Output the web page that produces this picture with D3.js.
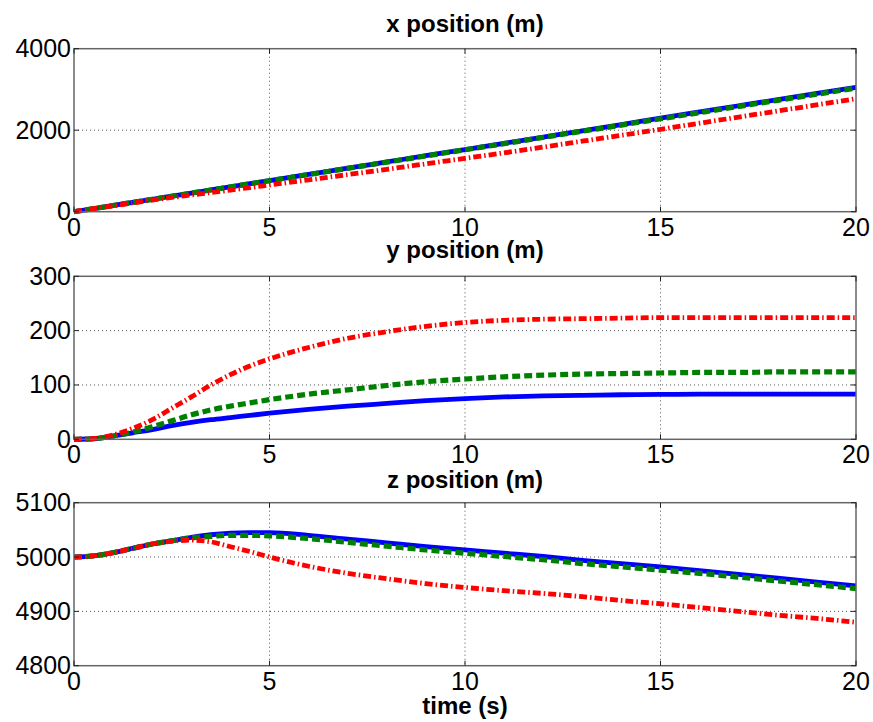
<!DOCTYPE html>
<html>
<head>
<meta charset="utf-8">
<title>position vs time</title>
<script src="https://d3js.org/d3.v7.min.js"></script>
<style>
  body { margin: 0; background: #fff; }
  text { font-family: 'Liberation Sans', Arial, sans-serif; fill: #000; }
  .title { font-weight: bold; font-size: 24px; }
  .tick-label { font-size: 25px; }
</style>
</head>
<body>
<div id="chart"></div>
<script>
// ---- data ----
const time = [0, 0.5, 1, 1.5, 2, 2.5, 3, 3.5, 4, 4.5, 5, 6, 7, 8, 9, 10,
              11, 12, 13, 14, 15, 16, 17, 18, 19, 20];

const xBlue  = [0, 76, 153, 229, 305, 382, 458, 534, 611, 687, 763, 916, 1068, 1221, 1374, 1526,
                1679, 1832, 1984, 2137, 2295, 2447, 2600, 2752, 2903, 3053];
const xGreen = [0, 76, 152, 228, 304, 380, 456, 532, 608, 684, 760, 912, 1064, 1216, 1368, 1519,
                1670, 1822, 1974, 2125, 2280, 2431, 2582, 2733, 2884, 3035];
const xRed   = [0, 73, 145, 215, 285, 350, 410, 470, 530, 592, 655, 780, 910, 1040, 1175, 1310,
                1445, 1585, 1730, 1875, 2022, 2172, 2322, 2472, 2622, 2773];

const yBlue  = [0, 1, 6, 12, 18, 25, 31, 36, 40, 44, 48, 55, 61, 66, 71, 75,
                78, 80, 81, 82, 82.5, 83, 83, 83, 83, 83];
const yGreen = [0, 1, 6, 13, 23, 34, 45, 54, 61, 67, 73, 83, 91, 99, 106, 111,
                115, 118, 120, 121, 122, 123, 123, 124, 124, 124];
const yRed   = [0, 1.5, 8, 20, 36, 57, 78, 100, 119, 135, 148, 169, 186, 198, 208, 215,
                219, 221, 222, 223, 224, 224, 224, 224, 224, 224];

const zBlue  = [5000, 5002, 5008, 5016, 5024, 5030, 5036, 5041, 5044, 5045, 5045, 5040, 5033, 5026, 5019, 5013,
                5007, 5001, 4994, 4988, 4982, 4975, 4968, 4961, 4954, 4947];
const zGreen = [5000, 5002, 5008, 5016, 5024, 5030, 5035, 5038, 5040, 5040, 5039, 5034, 5027, 5020, 5013, 5007,
                5001, 4995, 4988, 4982, 4976, 4970, 4963, 4956, 4949, 4942];
const zRed   = [5000, 5002, 5008, 5016, 5024, 5029, 5031, 5028, 5019, 5010, 5000, 4983, 4970, 4960, 4951, 4944,
                4938, 4933, 4927, 4920, 4914, 4907, 4900, 4893, 4887, 4880];

const xTicks = [0, 5, 10, 15, 20];
const titles = ["x position (m)", "y position (m)", "z position (m)"];
const yDomains = [[0, 4000], [0, 300], [4800, 5100]];
const yTicks = [[0, 2000, 4000], [0, 100, 200, 300], [4800, 4900, 5000, 5100]];
const seriesByPanel = [[xBlue, xGreen, xRed], [yBlue, yGreen, yRed], [zBlue, zGreen, zRed]];
const xLabel = "time (s)";

// ---- layout / style ----
const width = 873, height = 722;
const left = 74, right = 856;
const panelTops = [48.7, 276.3, 502.7];
const panelH = 163;
const titleGap = [17, 18, 15];
const styles = [
  { color: "#0000ff", width: 4.8, dash: null },
  { color: "#008000", width: 5.2, dash: "8,4" },
  { color: "#ff0000", width: 4.8, dash: "8,3,1.5,3" }
];

const svg = d3.select("#chart").append("svg")
    .attr("width", width)
    .attr("height", height);

const x = d3.scaleLinear().domain([0, 20]).range([left, right]);

panelTops.forEach(function(top, i) {
  const bottom = top + panelH;
  const y = d3.scaleLinear().domain(yDomains[i]).range([bottom, top]);
  const g = svg.append("g");

  // grid
  g.selectAll(".vgrid").data(xTicks.slice(1, -1)).enter().append("line")
    .attr("x1", d => x(d)).attr("x2", d => x(d))
    .attr("y1", top).attr("y2", bottom)
    .attr("stroke", "#555").attr("stroke-width", 1).attr("stroke-dasharray", "1,3");
  g.selectAll(".hgrid").data(yTicks[i].slice(1, -1)).enter().append("line")
    .attr("x1", left).attr("x2", right)
    .attr("y1", d => y(d)).attr("y2", d => y(d))
    .attr("stroke", "#555").attr("stroke-width", 1).attr("stroke-dasharray", "1,3");

  // lines
  seriesByPanel[i].forEach(function(vals, k) {
    const line = d3.line()
      .x((d, j) => x(time[j]))
      .y(d => y(d))
      .curve(d3.curveMonotoneX);
    const p = g.append("path")
      .attr("d", line(vals))
      .attr("fill", "none")
      .attr("stroke", styles[k].color)
      .attr("stroke-width", styles[k].width);
    if (styles[k].dash) p.attr("stroke-dasharray", styles[k].dash);
  });

  // box
  g.append("rect")
    .attr("x", left).attr("y", top)
    .attr("width", right - left).attr("height", panelH)
    .attr("fill", "none").attr("stroke", "#666").attr("stroke-width", 1.5);

  // ticks (inside, all four sides)
  const tl = 5;
  xTicks.forEach(function(t) {
    g.append("line").attr("x1", x(t)).attr("x2", x(t)).attr("y1", bottom).attr("y2", bottom - tl)
      .attr("stroke", "#222");
    g.append("line").attr("x1", x(t)).attr("x2", x(t)).attr("y1", top).attr("y2", top + tl)
      .attr("stroke", "#222");
  });
  yTicks[i].forEach(function(t) {
    g.append("line").attr("x1", left).attr("x2", left + tl).attr("y1", y(t)).attr("y2", y(t))
      .attr("stroke", "#222");
    g.append("line").attr("x1", right).attr("x2", right - tl).attr("y1", y(t)).attr("y2", y(t))
      .attr("stroke", "#222");
  });

  // tick labels
  g.selectAll(".xl").data(xTicks).enter().append("text")
    .attr("class", "tick-label")
    .attr("x", d => x(d)).attr("y", bottom + 24)
    .attr("text-anchor", "middle")
    .text(d => d);
  g.selectAll(".yl").data(yTicks[i]).enter().append("text")
    .attr("class", "tick-label")
    .attr("x", left - 3).attr("y", d => y(d))
    .attr("dy", "0.34em")
    .attr("text-anchor", "end")
    .text(d => d);

  // title
  g.append("text").attr("class", "title")
    .attr("x", (left + right) / 2).attr("y", top - titleGap[i])
    .attr("text-anchor", "middle")
    .text(titles[i]);
});

svg.append("text").attr("class", "title")
  .attr("x", (left + right) / 2).attr("y", 714)
  .attr("text-anchor", "middle")
  .text(xLabel);
</script>
</body>
</html>
